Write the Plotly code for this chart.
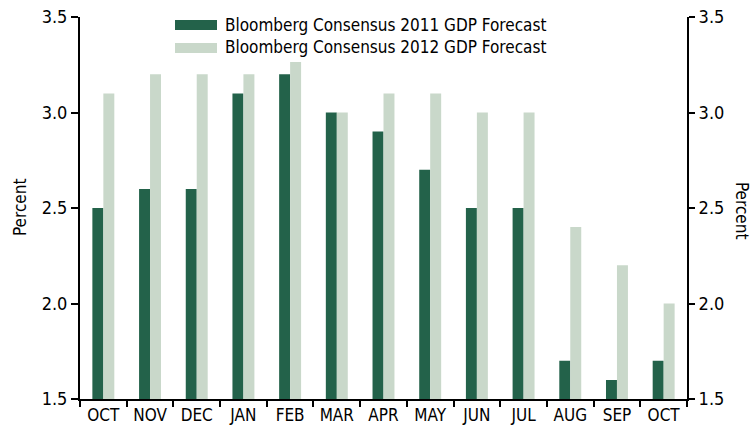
import plotly.graph_objects as go

months = ["OCT", "NOV", "DEC", "JAN", "FEB", "MAR", "APR", "MAY", "JUN", "JUL", "AUG", "SEP", "OCT"]
gdp_2011 = [2.5, 2.6, 2.6, 3.1, 3.2, 3.0, 2.9, 2.7, 2.5, 2.5, 1.7, 1.6, 1.7]
gdp_2012 = [3.1, 3.2, 3.2, 3.2, 3.3, 3.0, 3.1, 3.1, 3.0, 3.0, 2.4, 2.2, 2.0]
name_2011 = "Bloomberg Consensus 2011 GDP Forecast"
name_2012 = "Bloomberg Consensus 2012 GDP Forecast"
y_ticks = [1.5, 2.0, 2.5, 3.0, 3.5]

DARK = "#23624A"
LIGHT = "#C9D8CA"
FONT = "Liberation Sans Narrow, DejaVu Sans Condensed, Arial Narrow, sans-serif"

x = list(range(len(months)))

fig = go.Figure()
fig.add_trace(go.Bar(x=x, y=gdp_2011, name=name_2011, marker_color=DARK, marker_line_width=0))
fig.add_trace(go.Bar(x=x, y=gdp_2012, name=name_2012, marker_color=LIGHT, marker_line_width=0))
fig.add_trace(go.Scatter(x=[0], y=[1.5], yaxis="y2", mode="markers", marker_opacity=0,
                         showlegend=False, hoverinfo="skip"))

W, H = 755, 429
L, T = 80, 17
pw, ph = 607, 382
R = W - L - pw
B = H - T - ph

fig.update_layout(
    width=W, height=H,
    margin=dict(l=L, r=R, t=T, b=B, autoexpand=False),
    paper_bgcolor="white", plot_bgcolor="white",
    barmode="group", bargap=0.53, bargroupgap=0,
    showlegend=False,
    font=dict(family=FONT, size=17, color="black"),
    xaxis=dict(
        automargin=False,
        range=[-0.5, len(months) - 0.5],
        tickmode="array", tickvals=x, ticktext=months,
        ticks="", showgrid=False, zeroline=False,
        showline=True, linecolor="black", linewidth=2,
        minor=dict(tickmode="array", tickvals=[i - 0.5 for i in range(len(months) + 1)],
                   ticks="outside", ticklen=6, tickwidth=2, tickcolor="black", showgrid=False),
        tickfont=dict(size=17), ticklabeloverflow="allow",
    ),
    yaxis=dict(
        automargin=False,
        range=[1.5, 3.5], tickmode="array", tickvals=y_ticks,
        ticktext=[f"{v:.1f}" for v in y_ticks],
        ticks="outside", ticklen=7, tickwidth=2, tickcolor="black",
        showline=True, linecolor="black", linewidth=2,
        showgrid=False, zeroline=False, tickfont=dict(size=18),
        ticklabeloverflow="allow",
    ),
    yaxis2=dict(
        automargin=False,
        range=[1.5, 3.5], overlaying="y", side="right", tickmode="array", tickvals=y_ticks,
        ticktext=[f"{v:.1f}" for v in y_ticks],
        ticks="outside", ticklen=6, tickwidth=2, tickcolor="black",
        showline=True, linecolor="black", linewidth=2,
        showgrid=False, zeroline=False, tickfont=dict(size=18),
        ticklabeloverflow="allow",
    ),
)

def px_x(v):
    return (v - L) / pw
def px_y(v):
    return 1 - (v - T) / ph

shapes = []
shapes.append(dict(type="rect", xref="paper", yref="paper", x0=px_x(170), x1=px_x(548),
                   y0=px_y(62), y1=px_y(15), fillcolor="white", line_width=0, layer="above"))
shapes.append(dict(type="rect", xref="paper", yref="paper", x0=px_x(175), x1=px_x(217),
                   y0=px_y(30), y1=px_y(20), fillcolor=DARK, line_width=0, layer="above"))
shapes.append(dict(type="rect", xref="paper", yref="paper", x0=px_x(175), x1=px_x(217),
                   y0=px_y(53), y1=px_y(43), fillcolor=LIGHT, line_width=0, layer="above"))
fig.update_layout(shapes=shapes)

ann = [
    dict(xref="paper", yref="paper", x=px_x(223), y=px_y(25), text=name_2011, showarrow=False,
         xanchor="left", yanchor="middle", font=dict(size=17)),
    dict(xref="paper", yref="paper", x=px_x(223), y=px_y(47), text=name_2012, showarrow=False,
         xanchor="left", yanchor="middle", font=dict(size=17)),
    dict(xref="paper", yref="paper", x=px_x(20), y=px_y(208), text="Percent", showarrow=False,
         textangle=-90, xanchor="center", yanchor="middle", font=dict(size=17)),
    dict(xref="paper", yref="paper", x=px_x(742), y=px_y(210), text="Percent", showarrow=False,
         textangle=90, xanchor="center", yanchor="middle", font=dict(size=17)),
]
fig.update_layout(annotations=ann)

fig.write_html("out.html", config={"displayModeBar": False},
               post_script="document.body.style.margin='0px';document.body.style.overflow='hidden';")
